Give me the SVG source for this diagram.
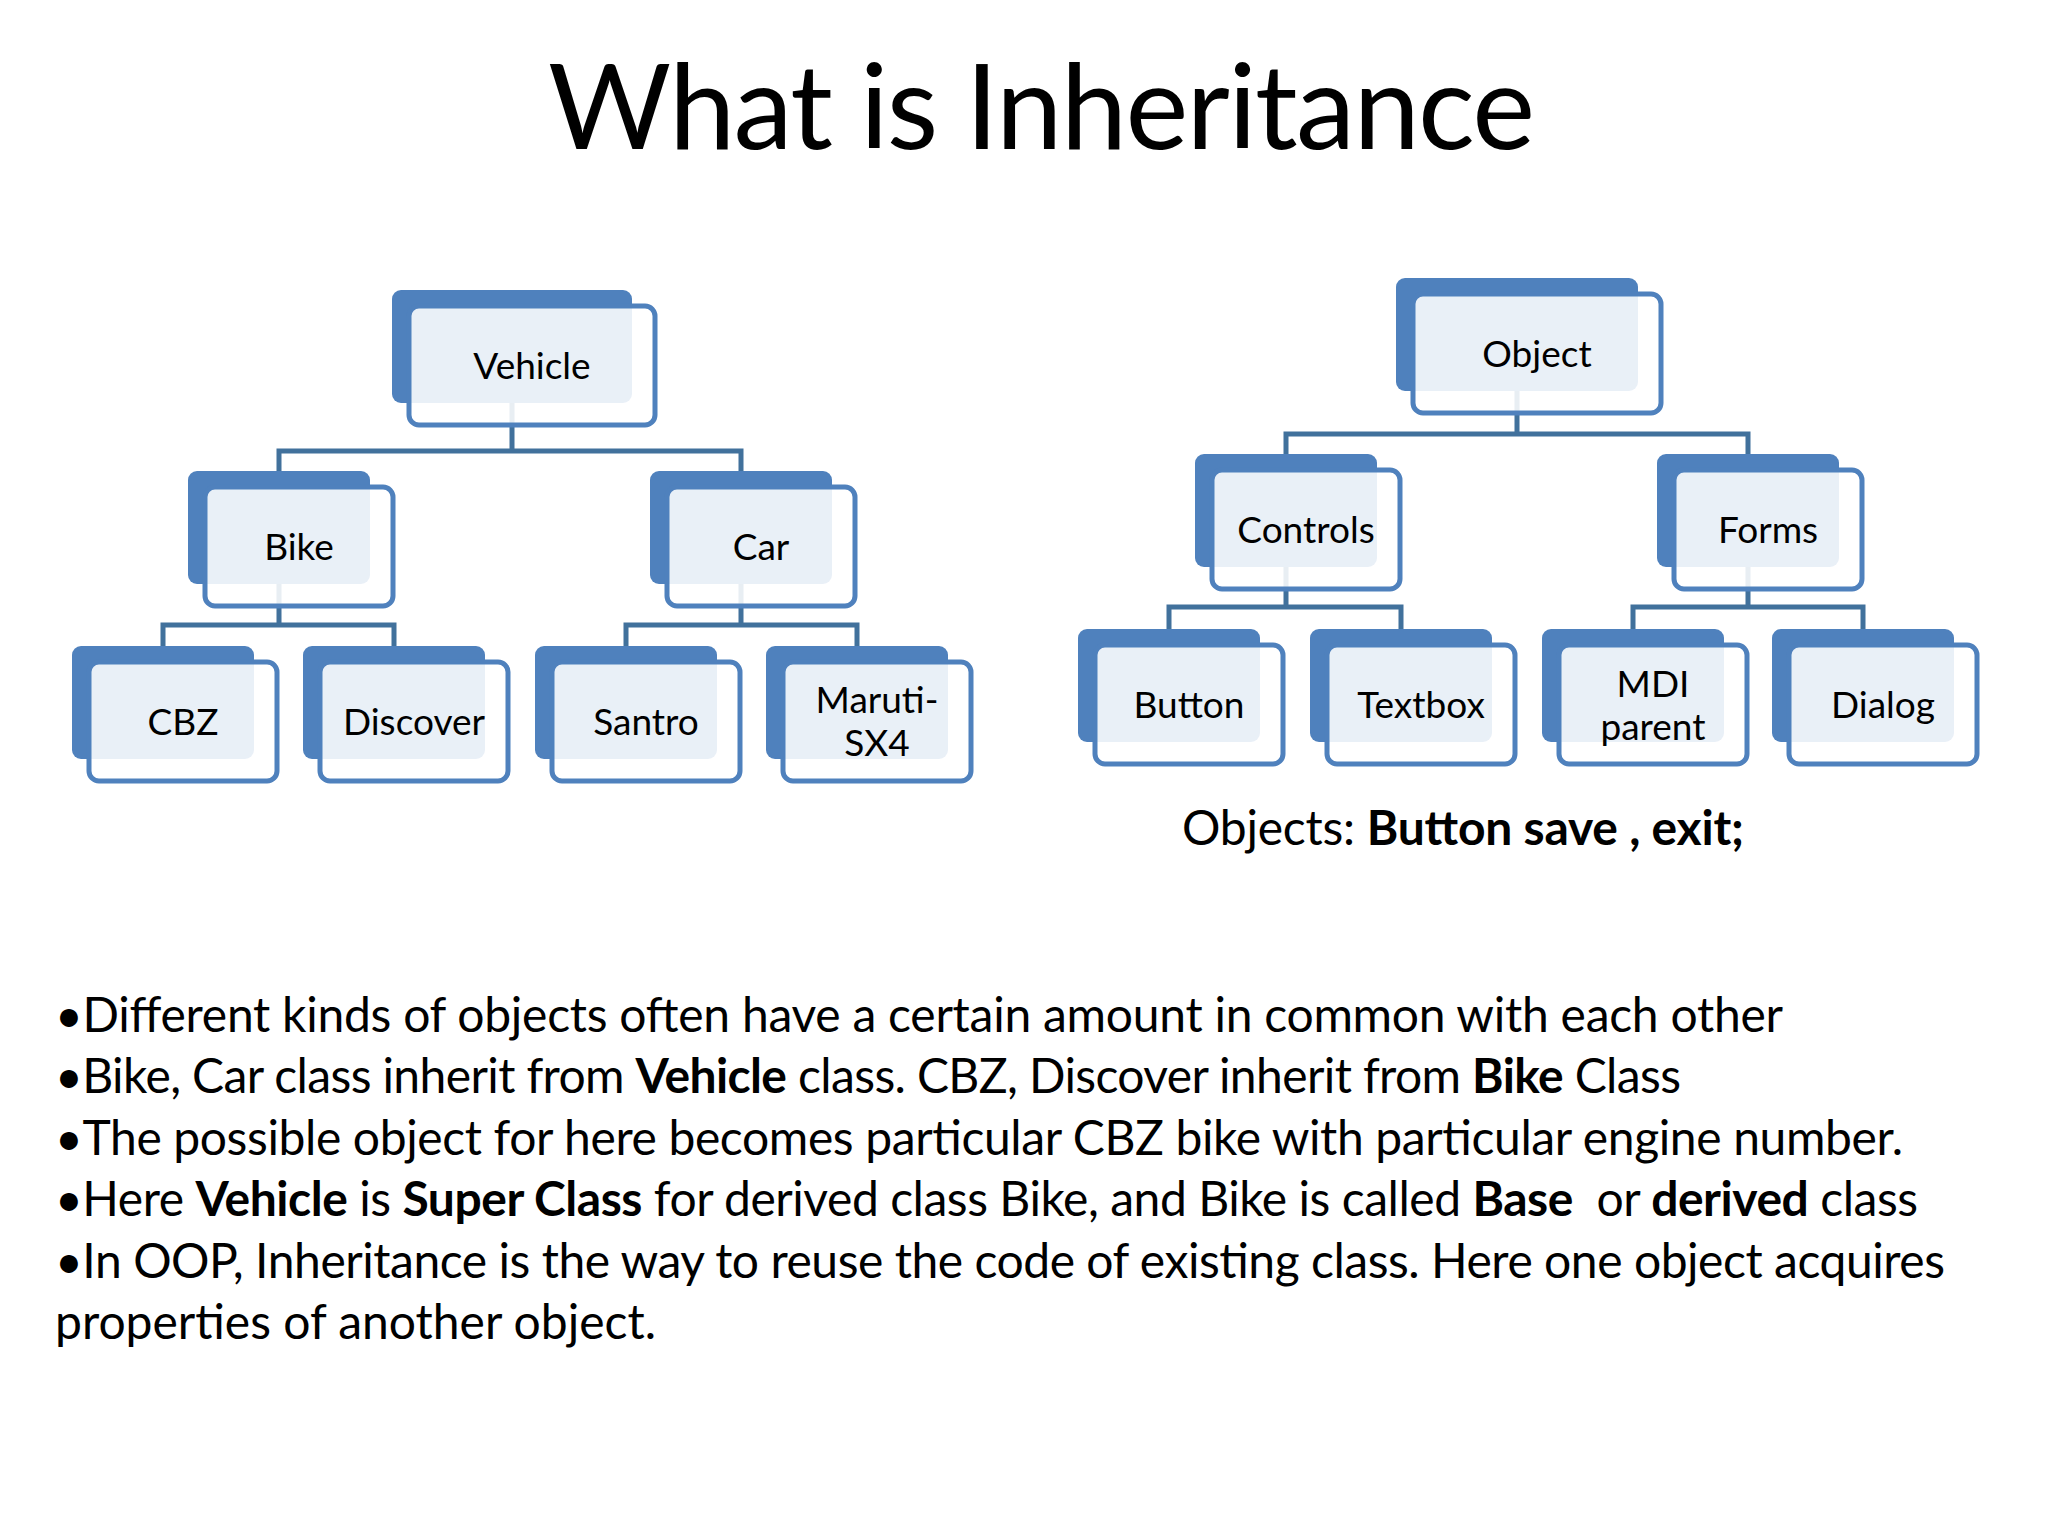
<svg xmlns="http://www.w3.org/2000/svg" width="2048" height="1536" viewBox="0 0 2048 1536">
<style>
.back{fill:#4F81BD}
.front{fill:#fff;fill-opacity:0.88;stroke:#4F81BD;stroke-width:5}
.lbl{font-family:Lato,"Liberation Sans",sans-serif;font-size:37px;text-anchor:middle;fill:#000}
.conn{fill:none;stroke:#41719C;stroke-width:5}
.body{font-family:Lato,"Liberation Sans",sans-serif;font-size:48px;fill:#000}
.b{font-weight:bold}
</style>
<rect x="0" y="0" width="2048" height="1536" fill="#fff"/>
<text x="548" y="149" textLength="987" style="font-family:Lato,'Liberation Sans',sans-serif;font-size:119px;fill:#000">What is Inheritance</text>
<g id="connectors">
<path class="conn" d="M512 403V451M279 471V451H741V471"/>
<path class="conn" d="M279 584V625M163 646V625H394V646"/>
<path class="conn" d="M741 584V625M626 646V625H857V646"/>
<path class="conn" d="M1517 391V434M1286 454V434H1748V454"/>
<path class="conn" d="M1286 567V607M1169 629V607H1401V629"/>
<path class="conn" d="M1748 567V607M1633 629V607H1863V629"/>
</g>
<g id="node-vehicle"><rect class="back" x="392" y="290" width="240" height="113" rx="9"/><rect class="front" x="409" y="306" width="246" height="119" rx="10"/><text class="lbl" x="532" y="379">Vehicle</text></g>
<g id="node-bike"><rect class="back" x="188" y="471" width="182" height="113" rx="9"/><rect class="front" x="205" y="487" width="188" height="119" rx="10"/><text class="lbl" x="299" y="560">Bike</text></g>
<g id="node-car"><rect class="back" x="650" y="471" width="182" height="113" rx="9"/><rect class="front" x="667" y="487" width="188" height="119" rx="10"/><text class="lbl" x="761" y="560">Car</text></g>
<g id="node-cbz"><rect class="back" x="72" y="646" width="182" height="113" rx="9"/><rect class="front" x="89" y="662" width="188" height="119" rx="10"/><text class="lbl" x="183" y="735">CBZ</text></g>
<g id="node-discover"><rect class="back" x="303" y="646" width="182" height="113" rx="9"/><rect class="front" x="320" y="662" width="188" height="119" rx="10"/><text class="lbl" x="414" y="735">Discover</text></g>
<g id="node-santro"><rect class="back" x="535" y="646" width="182" height="113" rx="9"/><rect class="front" x="552" y="662" width="188" height="119" rx="10"/><text class="lbl" x="646" y="735">Santro</text></g>
<g id="node-maruti"><rect class="back" x="766" y="646" width="182" height="113" rx="9"/><rect class="front" x="783" y="662" width="188" height="119" rx="10"/><text class="lbl" x="877" y="713">Maruti-</text><text class="lbl" x="877" y="756">SX4</text></g>
<g id="node-object"><rect class="back" x="1396" y="278" width="242" height="113" rx="9"/><rect class="front" x="1413" y="294" width="248" height="119" rx="10"/><text class="lbl" x="1537" y="367">Object</text></g>
<g id="node-controls"><rect class="back" x="1195" y="454" width="182" height="113" rx="9"/><rect class="front" x="1212" y="470" width="188" height="119" rx="10"/><text class="lbl" x="1306" y="543">Controls</text></g>
<g id="node-forms"><rect class="back" x="1657" y="454" width="182" height="113" rx="9"/><rect class="front" x="1674" y="470" width="188" height="119" rx="10"/><text class="lbl" x="1768" y="543">Forms</text></g>
<g id="node-button"><rect class="back" x="1078" y="629" width="182" height="113" rx="9"/><rect class="front" x="1095" y="645" width="188" height="119" rx="10"/><text class="lbl" x="1189" y="718">Button</text></g>
<g id="node-textbox"><rect class="back" x="1310" y="629" width="182" height="113" rx="9"/><rect class="front" x="1327" y="645" width="188" height="119" rx="10"/><text class="lbl" x="1421" y="718">Textbox</text></g>
<g id="node-mdi"><rect class="back" x="1542" y="629" width="182" height="113" rx="9"/><rect class="front" x="1559" y="645" width="188" height="119" rx="10"/><text class="lbl" x="1653" y="697">MDI</text><text class="lbl" x="1653" y="740">parent</text></g>
<g id="node-dialog"><rect class="back" x="1772" y="629" width="182" height="113" rx="9"/><rect class="front" x="1789" y="645" width="188" height="119" rx="10"/><text class="lbl" x="1883" y="718">Dialog</text></g>
<text class="body" x="1182" y="845" textLength="562">Objects: <tspan class="b">Button save , exit;</tspan></text>
<text class="body" x="55" y="1032" textLength="1728">•Different kinds of objects often have a certain amount in common with each other</text>
<text class="body" x="55" y="1093" textLength="1626">•Bike, Car class inherit from <tspan class="b">Vehicle</tspan> class. CBZ, Discover inherit from <tspan class="b">Bike</tspan> Class</text>
<text class="body" x="55" y="1155" textLength="1848">•The possible object for here becomes particular CBZ bike with particular engine number.</text>
<text class="body" x="55" y="1216" textLength="1863">•Here <tspan class="b">Vehicle</tspan> is <tspan class="b">Super Class</tspan> for derived class Bike, and Bike is called <tspan class="b">Base</tspan>&#160; or <tspan class="b">derived</tspan> class</text>
<text class="body" x="55" y="1278" textLength="1890">•In OOP, Inheritance is the way to reuse the code of existing class. Here one object acquires</text>
<text class="body" x="55" y="1339" textLength="601">properties of another object.</text>
</svg>
